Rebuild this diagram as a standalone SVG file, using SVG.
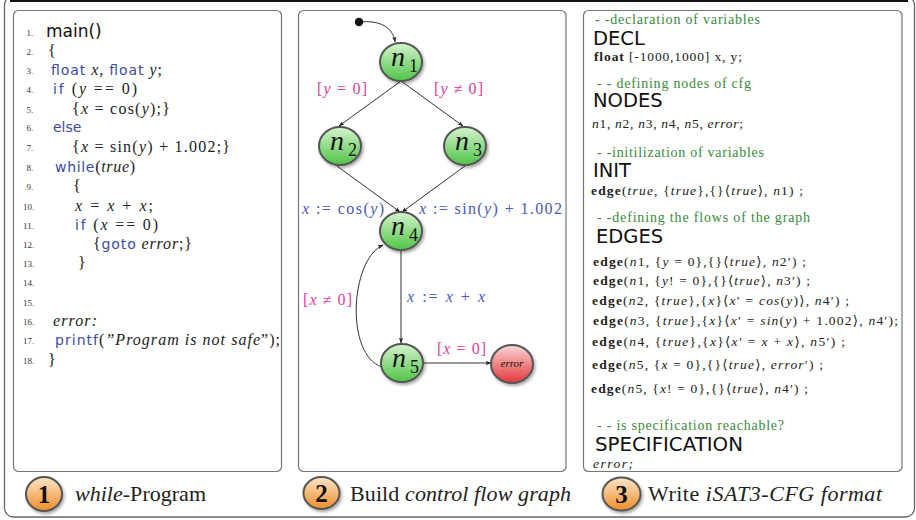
<svg xmlns="http://www.w3.org/2000/svg" width="916" height="520" viewBox="0 0 916 520">
<defs>
<style>
.frame{fill:#fff;stroke:#666;stroke-width:1.3}
.panel{fill:#fff;stroke:#777;stroke-width:1.2}
.num{font-family:"Liberation Serif","DejaVu Serif",serif;font-size:9px;fill:#333}
.m{font-family:"Liberation Serif","DejaVu Serif",serif;font-size:16px;fill:#222}
.i{font-style:italic}
.kw{font-family:"DejaVu Sans","Liberation Sans",sans-serif;font-size:14px;fill:#3b4ba8;font-style:normal}
.hd{font-family:"DejaVu Sans","Liberation Sans",sans-serif;font-size:19.5px;fill:#111}
.cm{font-family:"Liberation Serif","DejaVu Serif",serif;font-size:14px;fill:#3a8a3a}
.e{font-family:"Liberation Serif","DejaVu Serif",serif;font-size:13.5px;fill:#222}
.b{font-weight:bold}
.pk{font-family:"Liberation Serif","DejaVu Serif",serif;font-size:16px;fill:#e0409a}
.bl{font-family:"Liberation Serif","DejaVu Serif",serif;font-size:16px;fill:#4a5ab5}
.node{fill:url(#gGreen);stroke:#555;stroke-width:2;filter:url(#sh)}
.err{fill:url(#gRed);stroke:#555;stroke-width:2;filter:url(#sh)}
.badge{fill:url(#gOrange);stroke:#555;stroke-width:2;filter:url(#sh)}
.nl{font-family:"Liberation Serif","DejaVu Serif",serif;fill:#111}
.edge{fill:none;stroke:#333;stroke-width:1}
.cap{font-family:"Liberation Serif","DejaVu Serif",serif;font-size:22px;fill:#222}
.bn{font-family:"Liberation Serif","DejaVu Serif",serif;font-size:25px;font-weight:bold;fill:#111;text-anchor:middle}
</style>
<linearGradient id="gGreen" x1="0" y1="0" x2="0" y2="1">
<stop offset="0" stop-color="#d6f3cf"/><stop offset="1" stop-color="#4fc446"/>
</linearGradient>
<linearGradient id="gRed" x1="0" y1="0" x2="0" y2="1">
<stop offset="0" stop-color="#fbd6d6"/><stop offset="1" stop-color="#e2383a"/>
</linearGradient>
<linearGradient id="gOrange" x1="0" y1="0" x2="0" y2="1">
<stop offset="0" stop-color="#fde6c8"/><stop offset="1" stop-color="#f08d2a"/>
</linearGradient>
<filter id="sh" x="-30%" y="-30%" width="160%" height="160%">
<feDropShadow dx="1.5" dy="2" stdDeviation="1.5" flood-color="#000" flood-opacity="0.35"/>
</filter>
<marker id="arr" viewBox="0 0 10 10" refX="9" refY="5" markerWidth="6" markerHeight="6" orient="auto">
<path d="M0,1.5 L10,5 L0,8.5 L2.5,5 Z" fill="#222"/>
</marker>
</defs>

<rect x="0" y="0" width="916" height="520" fill="#fff"/>
<rect class="frame" x="4.5" y="-4" width="910" height="521" rx="9"/>
<line x1="10" y1="1" x2="908" y2="1" stroke="#111" stroke-width="2.2"/>

<!-- Panel 1: while-program -->
<g id="panel1">
<rect class="panel" x="13.5" y="10.5" width="268" height="461" rx="5"/>
<text class="num" x="26.5" y="35.5">1.</text>
<text class="num" x="26.5" y="54.5">2.</text>
<text class="num" x="26.5" y="74">3.</text>
<text class="num" x="26.5" y="93">4.</text>
<text class="num" x="26.5" y="113">5.</text>
<text class="num" x="26.5" y="131">6.</text>
<text class="num" x="26.5" y="151">7.</text>
<text class="num" x="26.5" y="171">8.</text>
<text class="num" x="26.5" y="190">9.</text>
<text class="num" x="23" y="210">10.</text>
<text class="num" x="23" y="229">11.</text>
<text class="num" x="23" y="248">12.</text>
<text class="num" x="23" y="267">13.</text>
<text class="num" x="23" y="286">14.</text>
<text class="num" x="23" y="306">15.</text>
<text class="num" x="23" y="325">16.</text>
<text class="num" x="23" y="344">17.</text>
<text class="num" x="23" y="364">18.</text>

<text x="46" y="37" font-family="DejaVu Sans, Liberation Sans, sans-serif" font-size="17" fill="#111">main()</text>
<text class="m" x="48" y="56">{</text>
<text class="m" x="51" y="75" textLength="111" lengthAdjust="spacing"><tspan class="kw">float</tspan> <tspan class="i">x</tspan>, <tspan class="kw">float</tspan> <tspan class="i">y</tspan>;</text>
<text class="m" x="53" y="94" textLength="84" lengthAdjust="spacing"><tspan class="kw">if</tspan> (<tspan class="i">y</tspan> == 0)</text>
<text class="m" x="72" y="114" textLength="98" lengthAdjust="spacing">{<tspan class="i">x</tspan> = cos(<tspan class="i">y</tspan>);}</text>
<text class="m" x="53" y="132"><tspan class="kw">else</tspan></text>
<text class="m" x="72" y="152" textLength="158" lengthAdjust="spacing">{<tspan class="i">x</tspan> = sin(<tspan class="i">y</tspan>) + 1.002;}</text>
<text class="m" x="55" y="172" textLength="80" lengthAdjust="spacing"><tspan class="kw">while</tspan>(<tspan class="i">true</tspan>)</text>
<text class="m" x="73" y="191">{</text>
<text class="m" x="75" y="211" textLength="78" lengthAdjust="spacing"><tspan class="i">x</tspan> = <tspan class="i">x</tspan> + <tspan class="i">x</tspan>;</text>
<text class="m" x="75" y="230" textLength="83" lengthAdjust="spacing"><tspan class="kw">if</tspan> (<tspan class="i">x</tspan> == 0)</text>
<text class="m" x="93" y="249" textLength="99" lengthAdjust="spacing">{<tspan class="kw">goto</tspan> <tspan class="i">error</tspan>;}</text>
<text class="m" x="78" y="268">}</text>
<text class="m i" x="53" y="326" textLength="44" lengthAdjust="spacing">error:</text>
<text class="m" x="55" y="345" textLength="225" lengthAdjust="spacing"><tspan class="kw">printf</tspan>(<tspan class="i">”Program is not safe</tspan>”);</text>
<text class="m" x="48" y="365">}</text>

<ellipse class="badge" cx="44" cy="494" rx="18" ry="17"/>
<text class="bn" x="44" y="503">1</text>
<text class="cap" x="75" y="501" textLength="131" lengthAdjust="spacing"><tspan class="i">while</tspan>-Program</text>
</g>

<!-- Panel 2: control flow graph -->
<g id="panel2">
<rect class="panel" x="298.5" y="10.5" width="267.5" height="461" rx="5"/>
<ellipse class="badge" cx="321.5" cy="493" rx="18" ry="16"/>
<text class="bn" x="321.5" y="502">2</text>
<text class="cap" x="350" y="501" textLength="221" lengthAdjust="spacing">Build <tspan class="i">control flow graph</tspan></text>
</g>

<g id="connectors">
<path class="edge" d="M359,22 C380,20 393,27 395,42" marker-end="url(#arr)"/>
<line class="edge" x1="401" y1="81" x2="339" y2="126" marker-end="url(#arr)"/>
<line class="edge" x1="401" y1="81" x2="463" y2="126" marker-end="url(#arr)"/>
<line class="edge" x1="337" y1="166" x2="400" y2="212" marker-end="url(#arr)"/>
<line class="edge" x1="465" y1="166" x2="402" y2="212" marker-end="url(#arr)"/>
<line class="edge" x1="401" y1="250" x2="401" y2="343" marker-end="url(#arr)"/>
<line class="edge" x1="423" y1="363" x2="491" y2="363" marker-end="url(#arr)"/>
<path class="edge" d="M382,367 C345,355 350,260 383,245" marker-end="url(#arr)"/>
<text class="pk" x="317" y="94" textLength="50" lengthAdjust="spacing">[<tspan class="i">y</tspan> = 0]</text>
<text class="pk" x="434" y="94" textLength="49" lengthAdjust="spacing">[<tspan class="i">y</tspan> ≠ 0]</text>
<text class="bl" x="302" y="214" textLength="82" lengthAdjust="spacing"><tspan class="i">x</tspan> := cos(<tspan class="i">y</tspan>)</text>
<text class="bl" x="419" y="214" textLength="143" lengthAdjust="spacing"><tspan class="i">x</tspan> := sin(<tspan class="i">y</tspan>) + 1.002</text>
<text class="pk" x="303" y="305" textLength="49" lengthAdjust="spacing">[<tspan class="i">x</tspan> ≠ 0]</text>
<text class="bl" x="407" y="302" textLength="78" lengthAdjust="spacing"><tspan class="i">x</tspan> := <tspan class="i">x</tspan> + <tspan class="i">x</tspan></text>
<text class="pk" x="437" y="354" textLength="49" lengthAdjust="spacing">[<tspan class="i">x</tspan> = 0]</text>
</g>

<g id="start"><circle cx="359" cy="22" r="4.2" fill="#111"/></g>
<g id="n1"><ellipse class="node" cx="401" cy="62" rx="21" ry="19"/>
<text class="nl" x="391" y="66"><tspan class="i" font-size="28">n</tspan><tspan font-size="18" x="409" y="72">1</tspan></text></g>
<g id="n2"><ellipse class="node" cx="340" cy="146" rx="21" ry="19"/>
<text class="nl" x="330" y="150"><tspan class="i" font-size="28">n</tspan><tspan font-size="18" x="348" y="156">2</tspan></text></g>
<g id="n3"><ellipse class="node" cx="465" cy="146" rx="21" ry="19"/>
<text class="nl" x="455" y="150"><tspan class="i" font-size="28">n</tspan><tspan font-size="18" x="473" y="156">3</tspan></text></g>
<g id="n4"><ellipse class="node" cx="401" cy="231" rx="21" ry="19"/>
<text class="nl" x="391" y="235"><tspan class="i" font-size="28">n</tspan><tspan font-size="18" x="409" y="241">4</tspan></text></g>
<g id="n5"><ellipse class="node" cx="402" cy="363" rx="21" ry="19"/>
<text class="nl" x="392" y="367"><tspan class="i" font-size="28">n</tspan><tspan font-size="18" x="410" y="373">5</tspan></text></g>
<g id="error"><ellipse class="err" cx="512" cy="364" rx="21" ry="19"/>
<text class="nl i" x="512" y="367" font-size="11" text-anchor="middle">error</text></g>

<!-- Panel 3: iSAT3-CFG format -->
<g id="panel3">
<rect class="panel" x="583.5" y="10.5" width="318.5" height="461" rx="5"/>
<text class="cm" x="595" y="24" textLength="165" lengthAdjust="spacing">- -declaration of variables</text>
<text class="hd" x="593" y="45">DECL</text>
<text class="e" x="594" y="61" textLength="148" lengthAdjust="spacing"><tspan class="b">float</tspan> [-1000,1000] x, y;</text>
<text class="cm" x="597" y="88" textLength="154" lengthAdjust="spacing">- - defining nodes of cfg</text>
<text class="hd" x="593" y="107">NODES</text>
<text class="e" x="592" y="128" textLength="151" lengthAdjust="spacing"><tspan class="i">n</tspan>1, <tspan class="i">n</tspan>2, <tspan class="i">n</tspan>3, <tspan class="i">n</tspan>4, <tspan class="i">n</tspan>5, <tspan class="i">error</tspan>;</text>
<text class="cm" x="597" y="157" textLength="167" lengthAdjust="spacing">- -initilization of variables</text>
<text class="hd" x="593" y="177">INIT</text>
<text class="e" x="591" y="195" textLength="212" lengthAdjust="spacing"><tspan class="b">edge</tspan>(<tspan class="i">true</tspan>, {<tspan class="i">true</tspan>},{}⟨<tspan class="i">true</tspan>⟩, <tspan class="i">n</tspan>1) ;</text>
<text class="cm" x="597" y="222" textLength="213" lengthAdjust="spacing">- -defining the flows of the graph</text>
<text class="hd" x="596" y="243">EDGES</text>
<text class="e" x="593" y="266" textLength="213" lengthAdjust="spacing"><tspan class="b">edge</tspan>(<tspan class="i">n</tspan>1, {<tspan class="i">y</tspan> = 0},{}⟨<tspan class="i">true</tspan>⟩, <tspan class="i">n</tspan>2′) ;</text>
<text class="e" x="593" y="285" textLength="217" lengthAdjust="spacing"><tspan class="b">edge</tspan>(<tspan class="i">n</tspan>1, {<tspan class="i">y</tspan>! = 0},{}⟨<tspan class="i">true</tspan>⟩, <tspan class="i">n</tspan>3′) ;</text>
<text class="e" x="592" y="305" textLength="257" lengthAdjust="spacing"><tspan class="b">edge</tspan>(<tspan class="i">n</tspan>2, {<tspan class="i">true</tspan>},{<tspan class="i">x</tspan>}⟨<tspan class="i">x</tspan>′ = <tspan class="i">cos</tspan>(<tspan class="i">y</tspan>)⟩, <tspan class="i">n</tspan>4′) ;</text>
<text class="e" x="593" y="325" textLength="305" lengthAdjust="spacing"><tspan class="b">edge</tspan>(<tspan class="i">n</tspan>3, {<tspan class="i">true</tspan>},{<tspan class="i">x</tspan>}⟨<tspan class="i">x</tspan>′ = <tspan class="i">sin</tspan>(<tspan class="i">y</tspan>) + 1.002⟩, <tspan class="i">n</tspan>4′);</text>
<text class="e" x="592" y="346" textLength="253" lengthAdjust="spacing"><tspan class="b">edge</tspan>(<tspan class="i">n</tspan>4, {<tspan class="i">true</tspan>},{<tspan class="i">x</tspan>}⟨<tspan class="i">x</tspan>′ = <tspan class="i">x</tspan> + <tspan class="i">x</tspan>⟩, <tspan class="i">n</tspan>5′) ;</text>
<text class="e" x="592" y="369" textLength="231" lengthAdjust="spacing"><tspan class="b">edge</tspan>(<tspan class="i">n</tspan>5, {<tspan class="i">x</tspan> = 0},{}⟨<tspan class="i">true</tspan>⟩, <tspan class="i">error</tspan>′) ;</text>
<text class="e" x="591" y="393" textLength="217" lengthAdjust="spacing"><tspan class="b">edge</tspan>(<tspan class="i">n</tspan>5, {<tspan class="i">x</tspan>! = 0},{}⟨<tspan class="i">true</tspan>⟩, <tspan class="i">n</tspan>4′) ;</text>
<text class="cm" x="597" y="430" textLength="187" lengthAdjust="spacing">- - is specification reachable?</text>
<text class="hd" x="595" y="450.5" font-size="17.5" textLength="148" lengthAdjust="spacingAndGlyphs">SPECIFICATION</text>
<text class="e i" x="593" y="467.5" font-size="13" textLength="40" lengthAdjust="spacing">error;</text>
<ellipse class="badge" cx="621.5" cy="494" rx="19" ry="16.5"/>
<text class="bn" x="621.5" y="503">3</text>
<text class="cap" x="648" y="501" textLength="234" lengthAdjust="spacing">Write <tspan class="i">iSAT3-CFG format</tspan></text>
</g>
</svg>
